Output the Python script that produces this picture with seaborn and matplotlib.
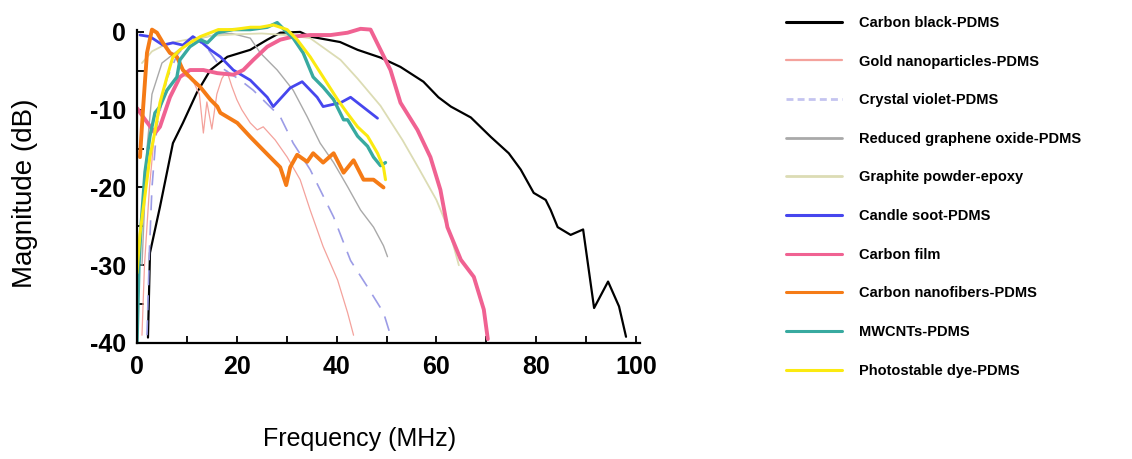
import matplotlib
matplotlib.use("Agg")
import matplotlib.pyplot as plt
import seaborn as sns
import numpy as np

# ---------------- data ----------------
labels = [
    "Carbon black-PDMS",
    "Gold nanoparticles-PDMS",
    "Crystal violet-PDMS",
    "Reduced graphene oxide-PDMS",
    "Graphite powder-epoxy",
    "Candle soot-PDMS",
    "Carbon film",
    "Carbon nanofibers-PDMS",
    "MWCNTs-PDMS",
    "Photostable dye-PDMS",
]

cb_x = [2.2, 2.6, 4.6, 7.2, 9.2, 12.0, 14.7, 18.1, 22.7, 26.1, 28.7, 32.7, 34.7, 40.7, 44.2,
        48.8, 52.8, 57.4, 60.4, 62.9, 66.9, 70.9, 74.5, 76.9, 79.5, 81.9, 82.9, 84.3, 86.9,
        89.4, 91.6, 94.4, 96.6, 98.0]
cb_y = [-39.3, -28.4, -22.5, -14.3, -11.7, -7.8, -4.9, -3.2, -2.3, -1.0, -0.1, 0.0, -0.6, -1.3, -2.3,
        -3.3, -4.5, -6.4, -8.4, -9.6, -11.0, -13.5, -15.6, -17.7, -20.7, -21.6, -22.9, -25.1, -26.1,
        -25.4, -35.5, -32.1, -35.3, -39.2]

au_x = [1.0, 1.5, 2.5, 3.5, 5.0, 7.0, 9.0, 11.0, 12.5, 13.3, 14.0, 15.0, 16.0, 17.0, 18.0, 19.0,
        20.0, 21.0, 22.7, 24.1, 25.3, 27.7, 30.1, 32.7, 34.7, 37.3, 40.2, 42.2, 43.4]
au_y = [-39.0, -30.0, -20.0, -13.0, -9.0, -6.5, -5.5, -6.0, -8.0, -13.0, -9.0, -12.5, -8.0, -6.0,
        -5.0, -7.0, -8.7, -10.0, -11.7, -12.6, -12.2, -13.9, -16.1, -19.0, -22.9, -27.6, -31.9, -36.1, -39.0]

cv_x = [2.0, 2.5, 3.0, 4.0, 6.0, 8.0, 10.0, 12.0, 14.0, 16.7, 20.7, 23.3, 28.7, 31.3, 34.7, 36.7,
        39.4, 42.8, 46.2, 49.4, 50.8]
cv_y = [-39.0, -28.0, -20.0, -12.0, -6.0, -3.0, -1.5, -1.0, -2.0, -4.5, -6.2, -7.5, -10.9, -14.3,
        -17.7, -20.3, -23.8, -29.4, -32.8, -36.1, -39.0]

rgo_x = [1.0, 2.0, 3.0, 5.0, 8.0, 10.0, 13.0, 16.0, 19.0, 22.7, 24.7, 28.1, 31.3, 34.1, 36.7, 39.4,
         42.2, 44.8, 47.4, 49.4, 50.2]
rgo_y = [-30.0, -15.0, -8.0, -4.0, -2.5, -1.5, -0.8, -0.3, -0.2, -0.8, -2.7, -4.9, -7.5, -10.9,
         -14.3, -16.8, -19.9, -22.9, -25.1, -27.5, -28.9]

gp_x = [1.0, 3.0, 6.0, 10.0, 15.0, 20.0, 25.0, 30.0, 34.7, 40.8, 44.2, 48.8, 53.2, 56.6, 60.0, 62.7, 64.5]
gp_y = [-4.0, -2.5, -1.5, -1.0, -0.5, -0.3, -0.2, -0.4, -0.8, -3.6, -6.0, -9.5, -13.9, -17.7, -21.6, -25.8, -30.0]

cs_x = [0.6, 2.6, 5.2, 7.2, 9.2, 11.2, 13.1, 14.7, 16.7, 19.3, 22.7, 26.1, 27.3, 30.7, 33.1, 36.1,
        37.3, 40.8, 42.8, 48.2]
cs_y = [-0.4, -0.6, -1.7, -1.4, -1.7, -0.6, -1.4, -2.3, -3.2, -4.9, -6.2, -8.4, -9.6, -7.2, -6.4,
        -8.4, -9.6, -9.1, -8.4, -11.1]

cf_x = [0.0, 1.2, 3.6, 4.6, 6.6, 8.6, 10.6, 13.3, 16.1, 19.3, 21.3, 23.3, 26.1, 28.7, 31.3, 34.7,
        38.8, 42.2, 44.8, 46.8, 48.8, 50.8, 52.8, 56.2, 58.8, 60.8, 62.2, 64.9, 67.5, 69.5, 70.3]
cf_y = [-9.8, -10.9, -13.0, -12.2, -8.4, -5.8, -4.9, -4.9, -5.3, -5.5, -4.9, -3.6, -1.9, -1.0, -0.6,
        -0.4, -0.4, -0.1, 0.4, 0.3, -2.3, -4.9, -9.1, -12.6, -16.1, -20.3, -25.1, -29.3, -31.5, -35.7, -39.5]

nf_x = [0.6, 1.2, 2.0, 3.0, 4.0, 5.2, 6.6, 8.0, 9.2, 11.2, 12.7, 14.7, 16.1, 16.7, 20.1, 22.7, 25.3,
        27.3, 28.7, 29.9, 30.7, 32.1, 34.1, 35.3, 37.3, 39.4, 41.4, 43.4, 45.4, 47.4, 49.4]
nf_y = [-16.1, -10.0, -2.7, 0.3, -0.1, -1.4, -2.7, -3.2, -4.9, -6.2, -7.1, -8.7, -9.6, -10.4, -11.7,
        -13.5, -15.2, -16.5, -17.4, -19.7, -17.4, -15.8, -16.7, -15.6, -16.8, -15.6, -18.1, -16.5,
        -19.0, -19.0, -20.0]

mw_x = [0.0, 0.4, 0.8, 1.6, 2.6, 3.6, 4.6, 6.0, 8.0, 8.6, 10.6, 12.7, 14.1, 16.1, 19.3, 22.7, 26.1,
        28.1, 30.1, 31.3, 33.3, 35.3, 37.3, 39.4, 41.4, 42.2, 44.2, 46.2, 47.4, 48.8, 49.8]
mw_y = [-40.0, -30.0, -25.0, -18.0, -13.4, -10.4, -9.6, -7.5, -5.8, -3.6, -1.9, -1.0, -1.4, -0.1,
        0.3, 0.3, 0.6, 1.2, -0.1, -0.8, -2.7, -5.8, -7.1, -8.7, -11.3, -11.3, -13.4, -14.7, -16.1,
        -17.2, -16.8]

pd_x = [0.0, 0.6, 1.2, 2.6, 3.6, 4.6, 6.0, 7.2, 8.6, 10.6, 12.7, 14.7, 16.3, 19.3, 22.7, 24.7, 27.3,
        30.1, 32.1, 34.7, 37.3, 40.2, 42.2, 44.2, 46.2, 48.2, 49.4, 49.8]
pd_y = [-31.0, -26.0, -23.0, -16.0, -12.8, -9.1, -5.8, -3.2, -2.3, -1.4, -0.6, -0.1, 0.3, 0.3, 0.6,
        0.6, 0.9, 0.3, -1.0, -3.2, -5.8, -8.7, -10.5, -12.2, -13.4, -15.6, -17.4, -19.0]

xs = [cb_x, au_x, cv_x, rgo_x, gp_x, cs_x, cf_x, nf_x, mw_x, pd_x]
ys = [cb_y, au_y, cv_y, rgo_y, gp_y, cs_y, cf_y, nf_y, mw_y, pd_y]

x_ticks = [0, 20, 40, 60, 80, 100]
y_ticks = [0, -10, -20, -30, -40]

# ---------------- styles ----------------
colors = ["#000000", "#f4a29c", "#9c9ce6", "#a9a9a9", "#dcdcb4",
          "#4646ee", "#f06292", "#f57b16", "#38aaa0", "#fbea10"]
widths = [1.6, 0.9, 1.2, 1.0, 1.3, 2.0, 2.8, 2.8, 2.4, 2.2]
dashes = ["-", "-", (0, (9, 6)), "-", "-", "-", "-", "-", "-", "-"]
leg_widths = [2.2, 1.6, 2.0, 2.0, 2.0, 2.2, 2.2, 2.2, 2.2, 2.2]

sns.set_theme(style="white")
plt.rcParams["font.family"] = ["Liberation Sans", "DejaVu Sans"]
plt.rcParams["axes.unicode_minus"] = False
plt.rcParams["text.color"] = "black"
plt.rcParams["axes.labelcolor"] = "black"
plt.rcParams["xtick.color"] = "black"
plt.rcParams["ytick.color"] = "black"

fig = plt.figure(figsize=(11.32, 4.59), dpi=100)
ax = fig.add_axes([137 / 1132, 116 / 459, 503 / 1132, 0.7116])

for x, y, lab, c, w, d in zip(xs, ys, labels, colors, widths, dashes):
    sns.lineplot(x=x, y=y, ax=ax, color=c, linewidth=w, linestyle=d, label=lab,
                 sort=False, estimator=None)

ax.set_xlim(0, 100.8)
ax.set_ylim(-40, 2)
ax.spines["top"].set_visible(False)
ax.spines["right"].set_visible(False)
for s in ("left", "bottom"):
    ax.spines[s].set_color("black")
    ax.spines[s].set_linewidth(1.6)
ax.spines["left"].set_bounds(-40, 0.3)

ax.set_xticks(x_ticks)
ax.set_yticks(y_ticks)
ax.set_xticks([10, 30, 50, 70, 90], minor=True)
ax.set_yticks([-5, -15, -25, -35], minor=True)
ax.tick_params(which="both", direction="in", length=5, width=1.3, color="black",
               left=True, bottom=True)
ax.tick_params(axis="x", which="major", labelsize=18, pad=9)
ax.tick_params(axis="y", which="major", labelsize=18, pad=8)
for t in ax.get_xticklabels() + ax.get_yticklabels():
    t.set_fontweight("bold")

ax.set_xlabel("Frequency (MHz)", fontsize=18)
ax.set_ylabel("Magnitude (dB)", fontsize=20)
ax.xaxis.set_label_coords(0.443, -0.257)
ax.yaxis.set_label_coords(-0.197, 0.46)

leg = ax.legend(loc="upper left", bbox_to_anchor=(773 / 1132, 0.994), bbox_transform=fig.transFigure,
                frameon=False, handlelength=3.8, handletextpad=1.2, labelspacing=1.69,
                prop={"family": "Liberation Sans", "weight": "bold", "size": 10.5})
for line, lw in zip(leg.get_lines(), leg_widths):
    line.set_linewidth(lw)
leg.get_lines()[2].set_linestyle((0, (2.5, 1.5)))
leg.get_lines()[2].set_color("#c4c4f0")
for t in leg.get_texts():
    t.set_color("black")

fig.savefig("out.png", dpi=100)
